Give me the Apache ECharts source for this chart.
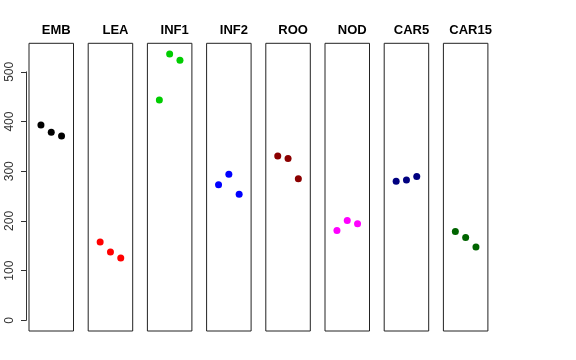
<!DOCTYPE html>
<html><head><meta charset="utf-8">
<script src="https://cdn.jsdelivr.net/npm/echarts@6/dist/echarts.min.js"></script>
<style>html,body{margin:0;padding:0;background:#fff}#c{width:576px;height:360px}</style>
</head><body><div id="c"></div>
<script>
const categories = ['EMB','LEA','INF1','INF2','ROO','NOD','CAR5','CAR15'];
const colors = ['#000000','#FF0000','#00CD00','#0000FF','#8B0000','#FF00FF','#000080','#006400'];
const EMB = [393, 378.5, 371];
const LEA = [157.7, 137.5, 125.5];
const INF1 = [443.6, 536, 523.5];
const INF2 = [273, 294, 253.7];
const ROO = [330.8, 325.5, 285];
const NOD = [180.6, 200.7, 194.6];
const CAR5 = [280, 282.5, 289.3];
const CAR15 = [179, 166.5, 147.8];
const seriesValues = [EMB, LEA, INF1, INF2, ROO, NOD, CAR5, CAR15];
const yTicks = [0, 100, 200, 300, 400, 500];

const yMax = 536, yExt = yMax * 0.04;
const panelTop = 43.3, panelH = 287.7, panelW = 44.5, step = 59.2, left0 = 29;
const grids = [], xAxes = [], yAxes = [], series = [], titles = [];
categories.forEach((name, i) => {
  const l = left0 + step * i;
  grids.push({left: l, top: panelTop, width: panelW, height: panelH, show: true,
    borderColor: '#222', borderWidth: 1, backgroundColor: 'transparent'});
  xAxes.push({type: 'value', gridIndex: i, min: -0.16, max: 4.16, show: false});
  yAxes.push({type: 'value', gridIndex: i, min: -yExt, max: yMax + yExt, show: false});
  series.push({type: 'scatter', xAxisIndex: i, yAxisIndex: i, symbolSize: 7,
    itemStyle: {color: colors[i], opacity: 1}, silent: true,
    data: seriesValues[i].map((v, k) => [k + 1, v])});
  titles.push({text: name, left: l + panelW / 2, top: 19, textAlign: 'center',
    textStyle: {fontFamily: 'Liberation Sans, Arial, sans-serif', fontWeight: 'bold', fontSize: 13, color: '#000'}});
});
// left axis grid spanning 0..500
const pxPerUnit = panelH / (yMax + 2 * yExt);
const axTop = panelTop + (yMax + yExt - 500) * pxPerUnit;
const axH = 500 * pxPerUnit;
grids.push({left: 26, top: axTop, width: 1, height: axH, show: false});
xAxes.push({type: 'value', gridIndex: 8, show: false});
yAxes.push({type: 'value', gridIndex: 8, min: 0, max: 500,
  axisLine: {show: true, lineStyle: {color: '#333', width: 1}},
  axisTick: {show: true, length: 5, inside: false, customValues: yTicks, lineStyle: {color: '#333'}},
  axisLabel: {show: true, rotate: 90, margin: 10, customValues: yTicks, fontSize: 12,
    fontFamily: 'Liberation Sans, Arial, sans-serif', color: '#333'},
  splitLine: {show: false}});

const chart = echarts.init(document.getElementById('c'), null, {renderer: 'canvas'});
chart.setOption({animation: false, backgroundColor: '#fff', title: titles,
  grid: grids, xAxis: xAxes, yAxis: yAxes, series: series});
</script></body></html>
